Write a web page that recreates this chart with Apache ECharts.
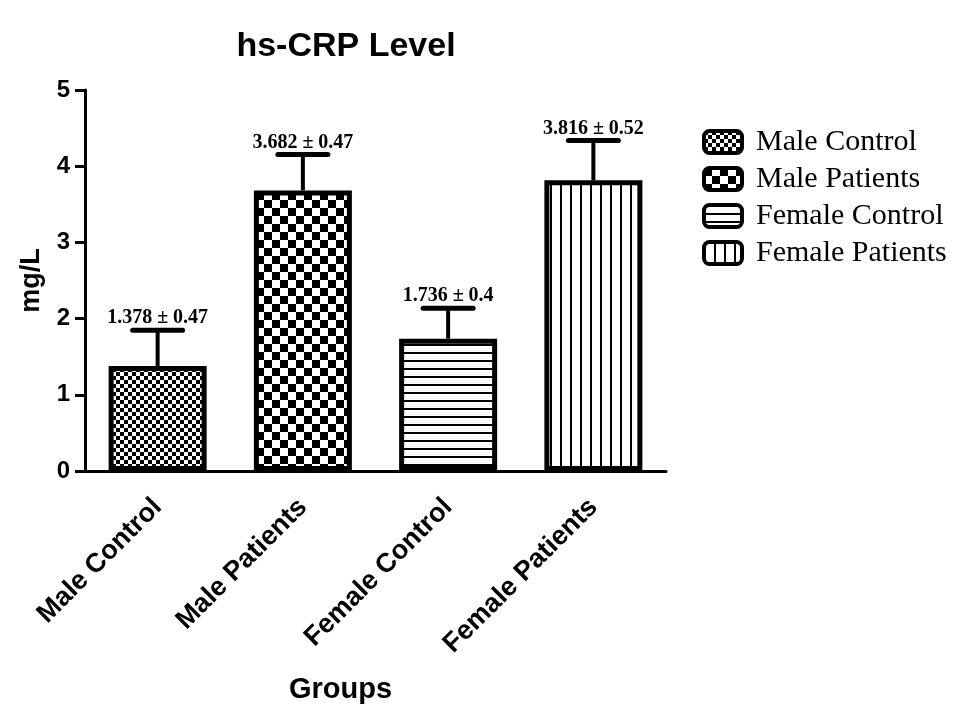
<!DOCTYPE html>
<html><head><meta charset="utf-8">
<script src="https://cdn.jsdelivr.net/npm/echarts@6/dist/echarts.min.js"></script>
<style>html,body{margin:0;padding:0;background:#fff}#c{width:972px;height:709px}</style>
</head><body><div id="c"></div>
<script>
const categories = ['Male Control', 'Male Patients', 'Female Control', 'Female Patients'];
const means = [1.378, 3.682, 1.736, 3.816];
const sds = [0.47, 0.47, 0.4, 0.52];
const yTicks = [0, 1, 2, 3, 4, 5];

function makePattern(kind) {
  const c = document.createElement('canvas');
  const g = c.getContext('2d');
  if (kind === 'fineCheck' || kind === 'coarseCheck') {
    const s = kind === 'fineCheck' ? 4 : 8;
    c.width = c.height = 2 * s;
    g.fillStyle = '#fff'; g.fillRect(0, 0, 2 * s, 2 * s);
    g.fillStyle = '#000'; g.fillRect(0, 0, s, s); g.fillRect(s, s, s, s);
  } else if (kind === 'hlines') {
    c.width = 8; c.height = 8;
    g.fillStyle = '#fff'; g.fillRect(0, 0, 8, 8);
    g.fillStyle = '#000'; g.fillRect(0, 0, 8, 2);
  } else {
    c.width = 10; c.height = 10;
    g.fillStyle = '#fff'; g.fillRect(0, 0, 10, 10);
    g.fillStyle = '#000'; g.fillRect(0, 0, 2, 10);
  }
  return { image: c, repeat: 'repeat' };
}
const patterns = ['fineCheck', 'coarseCheck', 'hlines', 'vlines'].map(makePattern);

const chart = echarts.init(document.getElementById('c'), null, { renderer: 'canvas' });
const SANS = '"Liberation Sans", Arial, sans-serif';
const SERIF = '"Liberation Serif", "Times New Roman", serif';

const barSeries = categories.map((name, i) => ({
  name: name,
  type: 'bar',
  barWidth: 98,
  barGap: '-100%',
  data: categories.map((_, j) => j === i ? means[j] : '-'),
  itemStyle: { color: patterns[i], borderColor: '#000', borderWidth: 5 },
  z: 2
}));

const errSeries = {
  type: 'custom',
  name: 'err',
  z: 3,
  data: means.map((m, i) => [i, m, sds[i]]),
  renderItem: function (params, api) {
    const base = api.coord([api.value(0), api.value(1)]);
    const top = api.coord([api.value(0), api.value(1) + api.value(2)]);
    const hw = 25;
    return {
      type: 'group',
      children: [
        { type: 'line', shape: { x1: base[0], y1: base[1], x2: top[0], y2: top[1] }, style: { stroke: '#000', lineWidth: 4 } },
        { type: 'line', shape: { x1: top[0] - hw, y1: top[1], x2: top[0] + hw, y2: top[1] }, style: { stroke: '#000', lineWidth: 5, lineCap: 'round' } },
        { type: 'text', x: top[0], y: top[1] - 2, style: { text: means[params.dataIndex].toFixed(3) + ' \u00B1 ' + sds[params.dataIndex], fill: '#000', font: 'bold 20px ' + SERIF, align: 'center', verticalAlign: 'bottom' } }
      ]
    };
  }
};

chart.setOption({
  animation: false,
  backgroundColor: '#fff',
  title: {
    text: 'hs-CRP Level', left: 341, top: 25, textAlign: 'center',
    textStyle: { fontFamily: SANS, fontWeight: 'bold', fontSize: 34, color: '#000' }
  },
  legend: {
    data: categories, orient: 'vertical', left: 697, top: 122,
    itemWidth: 38, itemHeight: 22, itemGap: 7, icon: 'roundRect',
    itemStyle: { borderColor: '#000', borderWidth: 4 },
    textStyle: { fontFamily: SERIF, fontSize: 30, lineHeight: 30, color: '#000', padding: [0, 0, 0, 9] },
    selectedMode: false
  },
  grid: { left: 85, right: 306, top: 90, bottom: 237, containLabel: false },
  xAxis: {
    type: 'category', data: categories,
    name: 'Groups', nameLocation: 'middle', nameGap: 204,
    nameTextStyle: { fontFamily: SANS, fontWeight: 'bold', fontSize: 29, color: '#000', padding: [0, 70, 0, 0] },
    axisLine: { lineStyle: { color: '#000', width: 3 } },
    axisTick: { alignWithLabel: true, length: 10, lineStyle: { color: '#000', width: 3 } },
    axisLabel: { rotate: 45, margin: 32, interval: 0, fontFamily: SANS, fontWeight: 'bold', fontSize: 27, color: '#000' },
    splitLine: { show: false }
  },
  yAxis: {
    type: 'value', min: yTicks[0], max: yTicks[yTicks.length - 1], interval: 1,
    name: 'mg/L', nameLocation: 'middle', nameGap: 40, nameRotate: 90,
    nameTextStyle: { fontFamily: SANS, fontWeight: 'bold', fontSize: 27, color: '#000' },
    axisLine: { show: true, lineStyle: { color: '#000', width: 3 } },
    axisTick: { show: true, length: 10, lineStyle: { color: '#000', width: 3 } },
    axisLabel: { margin: 15, fontFamily: SANS, fontWeight: 'bold', fontSize: 24, color: '#000' },
    splitLine: { show: false }
  },
  series: [...barSeries, errSeries]
});
</script></body></html>
